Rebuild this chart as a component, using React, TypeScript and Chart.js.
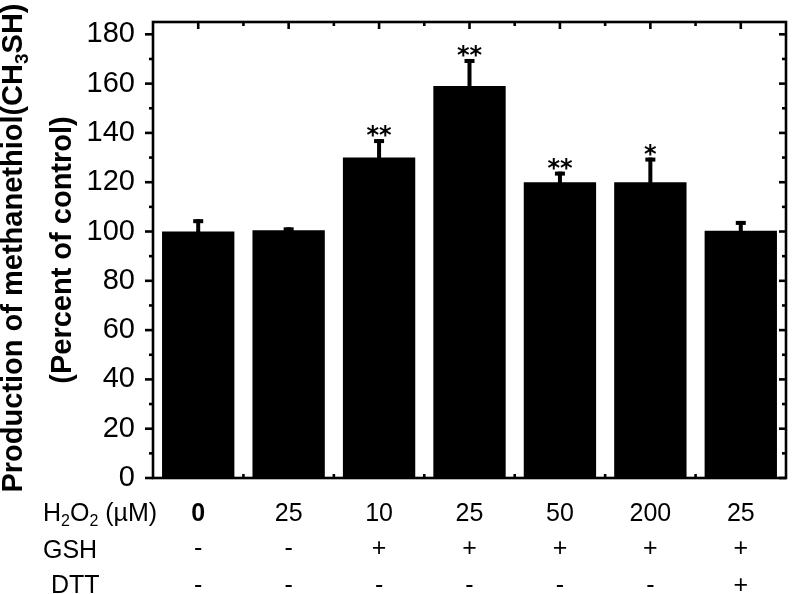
import React, { useEffect, useRef } from "react";
import { Chart, registerables } from "chart.js";

Chart.register(...registerables);

// ---- data ----
const h2o2Labels = ["0", "25", "10", "25", "50", "200", "25"];
const gshLabels = ["-", "-", "+", "+", "+", "+", "+"];
const dttLabels = ["-", "-", "-", "-", "-", "-", "+"];
const means = [100, 100.5, 130, 159, 120, 120, 100.3];
const errors = [5, 1.2, 7.5, 11, 4.3, 10, 4];
const stars = ["", "", "**", "**", "**", "*", ""];
const yTickValues = [0, 20, 40, 60, 80, 100, 120, 140, 160, 180];
const yMinorValues = [10, 30, 50, 70, 90, 110, 130, 150, 170];

const SANS = '"Liberation Sans", Arial, Helvetica, sans-serif';

type Part = { t: string; sub?: boolean };

function measureRich(ctx: CanvasRenderingContext2D, parts: Part[], size: number, weight: string) {
  let w = 0;
  for (const p of parts) {
    ctx.font = `${weight} ${p.sub ? Math.round(size * 0.65) : size}px ${SANS}`;
    w += ctx.measureText(p.t).width;
  }
  return w;
}

function drawRich(
  ctx: CanvasRenderingContext2D,
  parts: Part[],
  x: number,
  y: number,
  size: number,
  weight: string,
  align: "left" | "center"
) {
  const total = measureRich(ctx, parts, size, weight);
  let cx = align === "center" ? x - total / 2 : x;
  ctx.textAlign = "left";
  ctx.textBaseline = "alphabetic";
  for (const p of parts) {
    const s = p.sub ? Math.round(size * 0.65) : size;
    ctx.font = `${weight} ${s}px ${SANS}`;
    ctx.fillText(p.t, cx, p.sub ? y + size * 0.2 : y);
    cx += ctx.measureText(p.t).width;
  }
}

const annotationPlugin = {
  id: "annotations",
  afterDatasetsDraw(chart: any) {
    const { ctx, scales } = chart;
    const y = scales.y;
    const meta = chart.getDatasetMeta(0);
    ctx.save();
    ctx.fillStyle = "#000";
    meta.data.forEach((bar: any, i: number) => {
      const px = bar.x;
      const top = y.getPixelForValue(means[i]);
      const et = y.getPixelForValue(means[i] + errors[i]);
      ctx.fillRect(px - 2, et, 4, top - et + 1);
      ctx.fillRect(px - 5, et, 10, 4);
      if (stars[i]) {
        ctx.font = `bold 24px "DejaVu Sans", sans-serif`;
        ctx.textAlign = "center";
        ctx.textBaseline = "alphabetic";
        ctx.fillText(stars[i], px, et + 4);
      }
    });
    ctx.restore();
  },
  afterDraw(chart: any) {
    const { ctx, chartArea: a, scales } = chart;
    const x = scales.x;
    const y = scales.y;
    ctx.save();
    ctx.strokeStyle = "#000";
    ctx.fillStyle = "#000";
    ctx.lineWidth = 2.6;
    ctx.lineCap = "butt";
    ctx.strokeRect(a.left, a.top, a.right - a.left, a.bottom - a.top);

    const seg = (x1: number, y1: number, x2: number, y2: number) => {
      ctx.beginPath();
      ctx.moveTo(x1, y1);
      ctx.lineTo(x2, y2);
      ctx.stroke();
    };
    // y ticks: left outward, right inward
    for (const v of yTickValues) {
      const py = y.getPixelForValue(v);
      seg(a.left - 8, py, a.left, py);
      seg(a.right - 7, py, a.right, py);
    }
    for (const v of yMinorValues) {
      const py = y.getPixelForValue(v);
      seg(a.left - 4, py, a.left, py);
      seg(a.right - 4, py, a.right, py);
    }
    // x ticks: top and bottom inward
    const n = h2o2Labels.length;
    for (let i = 0; i < n; i++) {
      const px = x.getPixelForValue(i);
      seg(px, a.top, px, a.top + 7);
      seg(px, a.bottom, px, a.bottom - 7);
      const nx = i < n - 1 ? x.getPixelForValue(i + 1) : px + (px - x.getPixelForValue(i - 1));
      const mx = (px + nx) / 2;
      if (mx < a.right - 2) {
        seg(mx, a.top, mx, a.top + 4);
        seg(mx, a.bottom, mx, a.bottom - 4);
      }
    }

    // bottom table
    ctx.fillStyle = "#000";
    const fs = 25;
    drawRich(ctx, [{ t: "H" }, { t: "2", sub: true }, { t: "O" }, { t: "2", sub: true }, { t: " (\u00b5M)" }], 43, 521, fs, "normal", "left");
    drawRich(ctx, [{ t: "GSH" }], 43, 558, fs, "normal", "left");
    drawRich(ctx, [{ t: "DTT" }], 51, 593, fs, "normal", "left");
    for (let i = 0; i < n; i++) {
      const px = x.getPixelForValue(i);
      drawRich(ctx, [{ t: h2o2Labels[i] }], px, 521, fs, i === 0 ? "bold" : "normal", "center");
      drawRich(ctx, [{ t: gshLabels[i] }], px, 556, fs, "normal", "center");
      drawRich(ctx, [{ t: dttLabels[i] }], px, 593, fs, "normal", "center");
    }

    // y title (two lines, rotated)
    const ts = 29;
    ctx.save();
    ctx.translate(22, 248);
    ctx.rotate(-Math.PI / 2);
    drawRich(ctx, [{ t: "Production of methanethiol(CH" }, { t: "3", sub: true }, { t: "SH)" }], 0, 0, ts, "bold", "center");
    ctx.restore();
    ctx.save();
    ctx.translate(71, 250);
    ctx.rotate(-Math.PI / 2);
    drawRich(ctx, [{ t: "(Percent of control)" }], 0, 0, ts, "bold", "center");
    ctx.restore();

    ctx.restore();
  },
};

export default function App() {
  const ref = useRef<HTMLCanvasElement | null>(null);
  useEffect(() => {
    if (!ref.current) return;
    const chart = new Chart(ref.current, {
      type: "bar",
      data: {
        labels: h2o2Labels.map((l, i) => `${l}|${i}`),
        datasets: [
          {
            data: means,
            backgroundColor: "#000",
            borderWidth: 0,
            categoryPercentage: 0.8,
            barPercentage: 1,
          },
        ],
      },
      options: {
        responsive: false,
        animation: false,
        devicePixelRatio: 1,
        layout: { padding: { top: 22, right: 6, left: 0, bottom: 0 } },
        plugins: { legend: { display: false }, tooltip: { enabled: false } },
        scales: {
          x: {
            type: "category",
            offset: true,
            grid: { display: false },
            border: { display: false },
            ticks: { display: false },
            afterFit: (s: any) => {
              s.height = 116;
              s.paddingLeft = 0;
              s.paddingRight = 0;
            },
          },
          y: {
            min: 0,
            max: 185,
            grid: { display: false },
            border: { display: false },
            ticks: {
              stepSize: 20,
              color: "#000",
              padding: 10,
              font: { family: SANS, size: 29 },
            },
            afterBuildTicks: (s: any) => {
              s.ticks = yTickValues.map((v) => ({ value: v }));
            },
            afterFit: (s: any) => {
              s.width = 153;
              s.paddingTop = 0;
              s.paddingBottom = 0;
            },
          },
        },
      },
      plugins: [annotationPlugin],
    });
    return () => chart.destroy();
  }, []);
  return (
    <div style={{ position: "fixed", left: 0, top: 0, width: 792, height: 594, background: "#fff" }}>
      <canvas ref={ref} width={792} height={594} style={{ display: "block" }} />
    </div>
  );
}
